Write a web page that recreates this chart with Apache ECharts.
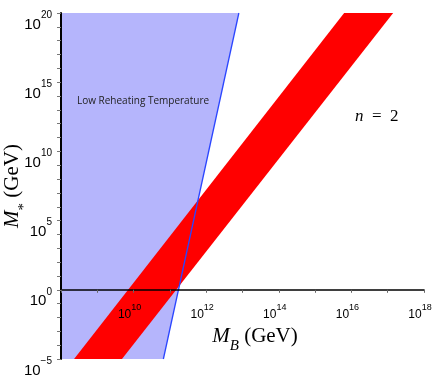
<!DOCTYPE html>
<html>
<head>
<meta charset="utf-8">
<script src="https://cdn.jsdelivr.net/npm/echarts@6/dist/echarts.min.js"></script>
<style>
  html, body { margin: 0; padding: 0; background: #fff; }
  #chart { width: 436px; height: 381px; }
</style>
</head>
<body>
<div id="chart"></div>
<script>
// everything is in log10 units (decades)
var xRange = [8, 18];
var yRange = [-5, 20];
var xLabelEvery = 2;
var yLabelEvery = 5;

// end points of the edges, at the bottom (y = -5) and top (y = 20) of the plot
var edgeY = [-5, 20];
var reheatLineX = [10.82, 12.90];   // blue line, right border of shaded region
var bandUpperX = [8.36, 15.80];     // upper-left edge of red band
var bandLowerX = [9.68, 17.15];     // lower-right edge of red band

var blueFill = '#b5b5fc';
var blueLine = '#2a45ff';
var red = '#ff0000';

var regionPts = [
  [xRange[0], edgeY[0]], [reheatLineX[0], edgeY[0]],
  [reheatLineX[1], edgeY[1]], [xRange[0], edgeY[1]]
];
var bandPts = [
  [bandUpperX[0], edgeY[0]], [bandLowerX[0], edgeY[0]],
  [bandLowerX[1], edgeY[1]], [bandUpperX[1], edgeY[1]]
];
var lineData = [[reheatLineX[0], edgeY[0]], [reheatLineX[1], edgeY[1]]];

function polygonSeries(pts, color) {
  return {
    type: 'custom',
    clip: true,
    silent: true,
    z: 1,
    data: [pts[0]],
    renderItem: function(params, api) {
      return {
        type: 'polygon',
        shape: { points: pts.map(function(p) { return api.coord(p); }) },
        style: { fill: color }
      };
    }
  };
}

var supFont = "'Liberation Sans Narrow', 'Liberation Sans', sans-serif";
var serif = "'Liberation Serif', 'DejaVu Serif', serif";

var nameRich = {
  m: { fontFamily: serif, fontStyle: 'italic', fontSize: 21, lineHeight: 24, verticalAlign: 'top', fill: '#000' },
  sub: { fontFamily: serif, fontStyle: 'italic', fontSize: 15, lineHeight: 15, padding: [13, 0, 0, 0], verticalAlign: 'top', fill: '#000' },
  star: { fontFamily: serif, fontSize: 15, lineHeight: 15, padding: [15, 0, 0, 0], verticalAlign: 'top', fill: '#000' },
  g: { fontFamily: serif, fontSize: 21, lineHeight: 24, verticalAlign: 'top', fill: '#000' }
};

var chart = echarts.init(document.getElementById('chart'), null, { renderer: 'canvas' });
chart.setOption({
  animation: false,
  backgroundColor: '#fff',
  grid: { left: 61, right: 12, top: 13, bottom: 22, containLabel: false, outerBoundsMode: 'none' },
  xAxis: {
    type: 'value',
    min: xRange[0], max: xRange[1], interval: 1,
    z: 10,
    offset: 0,
    axisLine: { onZero: false, lineStyle: { color: '#000', width: 1.5 } },
    axisTick: { length: 3, lineStyle: { color: '#666' } },
    splitLine: { show: false },
    axisLabel: {
      margin: 13,
      padding: [0, 8, 0, 0],
      formatter: function(v) {
        if (v % xLabelEvery !== 0 || v === xRange[0]) return '';
        return '{b|10}{s|' + v + '}';
      },
      rich: {
        b: { fontFamily: supFont, fontSize: 12, lineHeight: 18, verticalAlign: 'bottom', color: '#000' },
        s: { fontFamily: supFont, fontSize: 9, lineHeight: 9, verticalAlign: 'top', color: '#000' }
      }
    }
  },
  yAxis: {
    type: 'value',
    min: yRange[0], max: yRange[1], interval: 1,
    z: 10,
    axisLine: { show: true, lineStyle: { color: '#000', width: 2 } },
    axisTick: { length: 4, lineStyle: { color: '#777' } },
    splitLine: { show: false },
    axisLabel: {
      margin: 9,
      padding: [16, 0, 0, 0],
      formatter: function(v) {
        if (v % yLabelEvery !== 0) return '';
        return '{b|10}{s|' + String(v).replace('-', '\u2212') + '}';
      },
      rich: {
        b: { fontFamily: supFont, fontSize: 15, lineHeight: 22, verticalAlign: 'bottom', color: '#000' },
        s: { fontFamily: supFont, fontSize: 10, lineHeight: 10, verticalAlign: 'top', color: '#000' }
      }
    }
  },
  graphic: [
    {
      type: 'text', left: 77, top: 96, z: 10,
      style: { text: 'Low Reheating Temperature', font: "10px 'Open Sans', sans-serif", fill: '#222' }
    },
    {
      type: 'text', left: 355, top: 108, z: 10,
      style: {
        text: '{i|n}\u2002=\u20022',
        font: "17px " + serif,
        fill: '#000',
        rich: { i: { fontFamily: serif, fontStyle: 'italic', fontSize: 17 } }
      }
    },
    {
      type: 'text', x: 255, y: 338, z: 10,
      style: { text: '{m|M}{sub|B}{g| (GeV)}', align: 'center', verticalAlign: 'middle', rich: nameRich }
    },
    {
      type: 'text', x: 14, y: 186, rotation: Math.PI / 2, z: 10,
      style: { text: '{m|M}{star|*}{g| (GeV)}', align: 'center', verticalAlign: 'middle', rich: nameRich }
    }
  ],
  series: [
    polygonSeries(regionPts, blueFill),
    polygonSeries(bandPts, red),
    {
      type: 'line',
      data: lineData,
      symbol: 'none',
      silent: true,
      lineStyle: { color: blueLine, width: 1.3 },
      z: 5
    }
  ]
});

// move the x axis (line, ticks and labels) up to y = 10^0
var yZeroPx = chart.convertToPixel({ yAxisIndex: 0 }, 0);
var yBottomPx = chart.convertToPixel({ yAxisIndex: 0 }, yRange[0]);
chart.setOption({ xAxis: { offset: yZeroPx - yBottomPx } });

window.addEventListener('resize', function() { chart.resize(); });
</script>
</body>
</html>
